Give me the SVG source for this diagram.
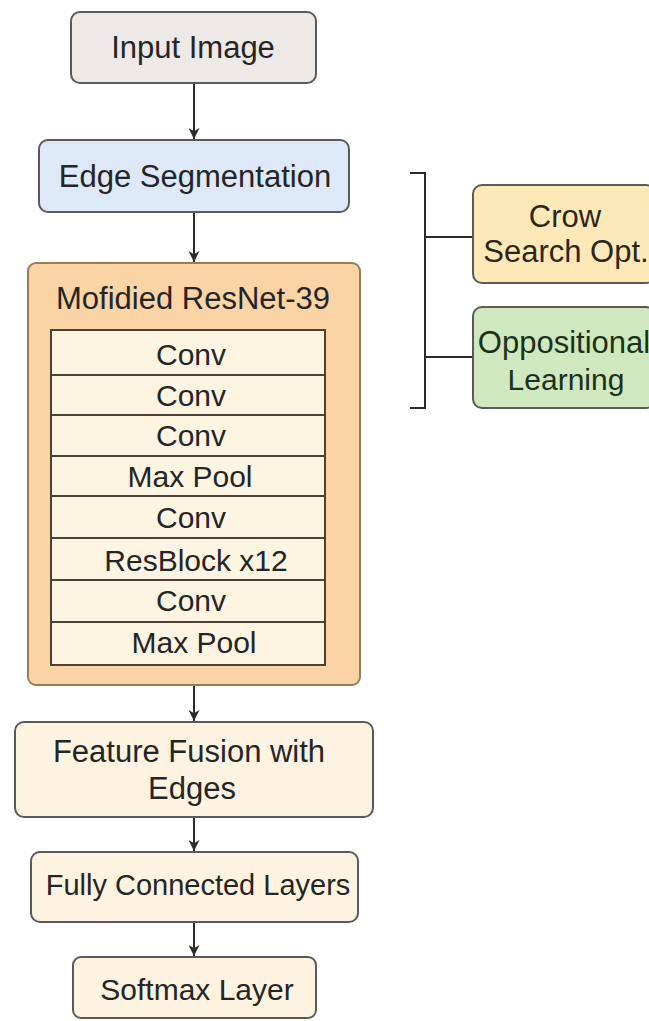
<svg xmlns="http://www.w3.org/2000/svg" width="649" height="1021" viewBox="0 0 649 1021">
<style>
text{font-family:"Liberation Sans",Arial,sans-serif;fill:#252525;text-anchor:middle;font-size:30px}
.box{stroke:#5a5a5a;stroke-width:2}
.row{fill:#fdf4e2;stroke:#4a4236;stroke-width:2}
.ln{stroke:#2b2b2b;stroke-width:2;fill:none}
</style>
<defs>
<marker id="ah" viewBox="0 0 10 10" refX="10" refY="5" markerWidth="11" markerHeight="11" orient="auto" markerUnits="userSpaceOnUse">
<path d="M0,0 L10,5 L0,10 L3,5 z" fill="#2b2b2b"/>
</marker>
</defs>
<rect width="649" height="1021" fill="#ffffff"/>
<g id="connectors">
<line class="ln" x1="194" y1="83" x2="194" y2="139" marker-end="url(#ah)"/>
<line class="ln" x1="194" y1="212" x2="194" y2="262" marker-end="url(#ah)"/>
<line class="ln" x1="194" y1="685" x2="194" y2="721" marker-end="url(#ah)"/>
<line class="ln" x1="194" y1="817" x2="194" y2="851" marker-end="url(#ah)"/>
<line class="ln" x1="194" y1="922" x2="194" y2="956" marker-end="url(#ah)"/>
<path class="ln" d="M410,173 H425 V408 H410"/>
<line class="ln" x1="425" y1="237" x2="473" y2="237"/>
<line class="ln" x1="425" y1="357" x2="473" y2="357"/>
</g>
<g id="input-image">
<rect class="box" x="71" y="12" width="245" height="71" rx="9" fill="#ece9e6"/>
<text x="193" y="58" style="font-size:31px">Input Image</text>
</g>
<g id="edge-segmentation">
<rect class="box" x="39" y="140" width="310" height="72" rx="9" fill="#dde9f8"/>
<text x="195" y="187" style="font-size:31px">Edge Segmentation</text>
</g>
<g id="resnet">
<rect x="28" y="263" width="332" height="422" rx="8" fill="#fbd4a6" stroke="#9a7a5a" stroke-width="2"/>
<text x="193" y="309" style="font-size:31px">Mofidied ResNet-39</text>
<g id="resnet-layers">
<rect class="row" x="51" y="330" width="274" height="45"/>
<rect class="row" x="51" y="375" width="274" height="40"/>
<rect class="row" x="51" y="415" width="274" height="41"/>
<rect class="row" x="51" y="456" width="274" height="40"/>
<rect class="row" x="51" y="496" width="274" height="42"/>
<rect class="row" x="51" y="538" width="274" height="42"/>
<rect class="row" x="51" y="580" width="274" height="42"/>
<rect class="row" x="51" y="622" width="274" height="43"/>
<text x="191" y="365">Conv</text>
<text x="191" y="406">Conv</text>
<text x="191" y="446">Conv</text>
<text x="190" y="487">Max Pool</text>
<text x="191" y="528">Conv</text>
<text x="196" y="571">ResBlock x12</text>
<text x="191" y="611">Conv</text>
<text x="194" y="653">Max Pool</text>
</g>
</g>
<g id="feature-fusion">
<rect class="box" x="15" y="722" width="358" height="95" rx="9" fill="#fdf3e0"/>
<text x="189" y="762" style="font-size:31px">Feature Fusion with</text>
<text x="192" y="799" style="font-size:31px">Edges</text>
</g>
<g id="fully-connected">
<rect class="box" x="31" y="852" width="327" height="70" rx="9" fill="#fdf3e0"/>
<text x="198" y="895" style="font-size:29px">Fully Connected Layers</text>
</g>
<g id="softmax">
<rect class="box" x="73" y="957" width="243" height="61" rx="8" fill="#fdf3e0"/>
<text x="197" y="1000">Softmax Layer</text>
</g>
<g id="crow-search">
<rect class="box" x="473" y="185" width="182" height="98" rx="9" fill="#fde9b8"/>
<text x="565" y="227" style="font-size:31px;fill:#2e2618">Crow</text>
<text x="566" y="262" style="font-size:31px;fill:#2e2618">Search Opt.</text>
</g>
<g id="oppositional">
<rect class="box" x="473" y="307" width="182" height="101" rx="9" fill="#cfe8bf"/>
<text x="564" y="353" style="font-size:31px;fill:#1d3119">Oppositional</text>
<text x="566" y="390" style="fill:#1d3119">Learning</text>
</g>
</svg>
